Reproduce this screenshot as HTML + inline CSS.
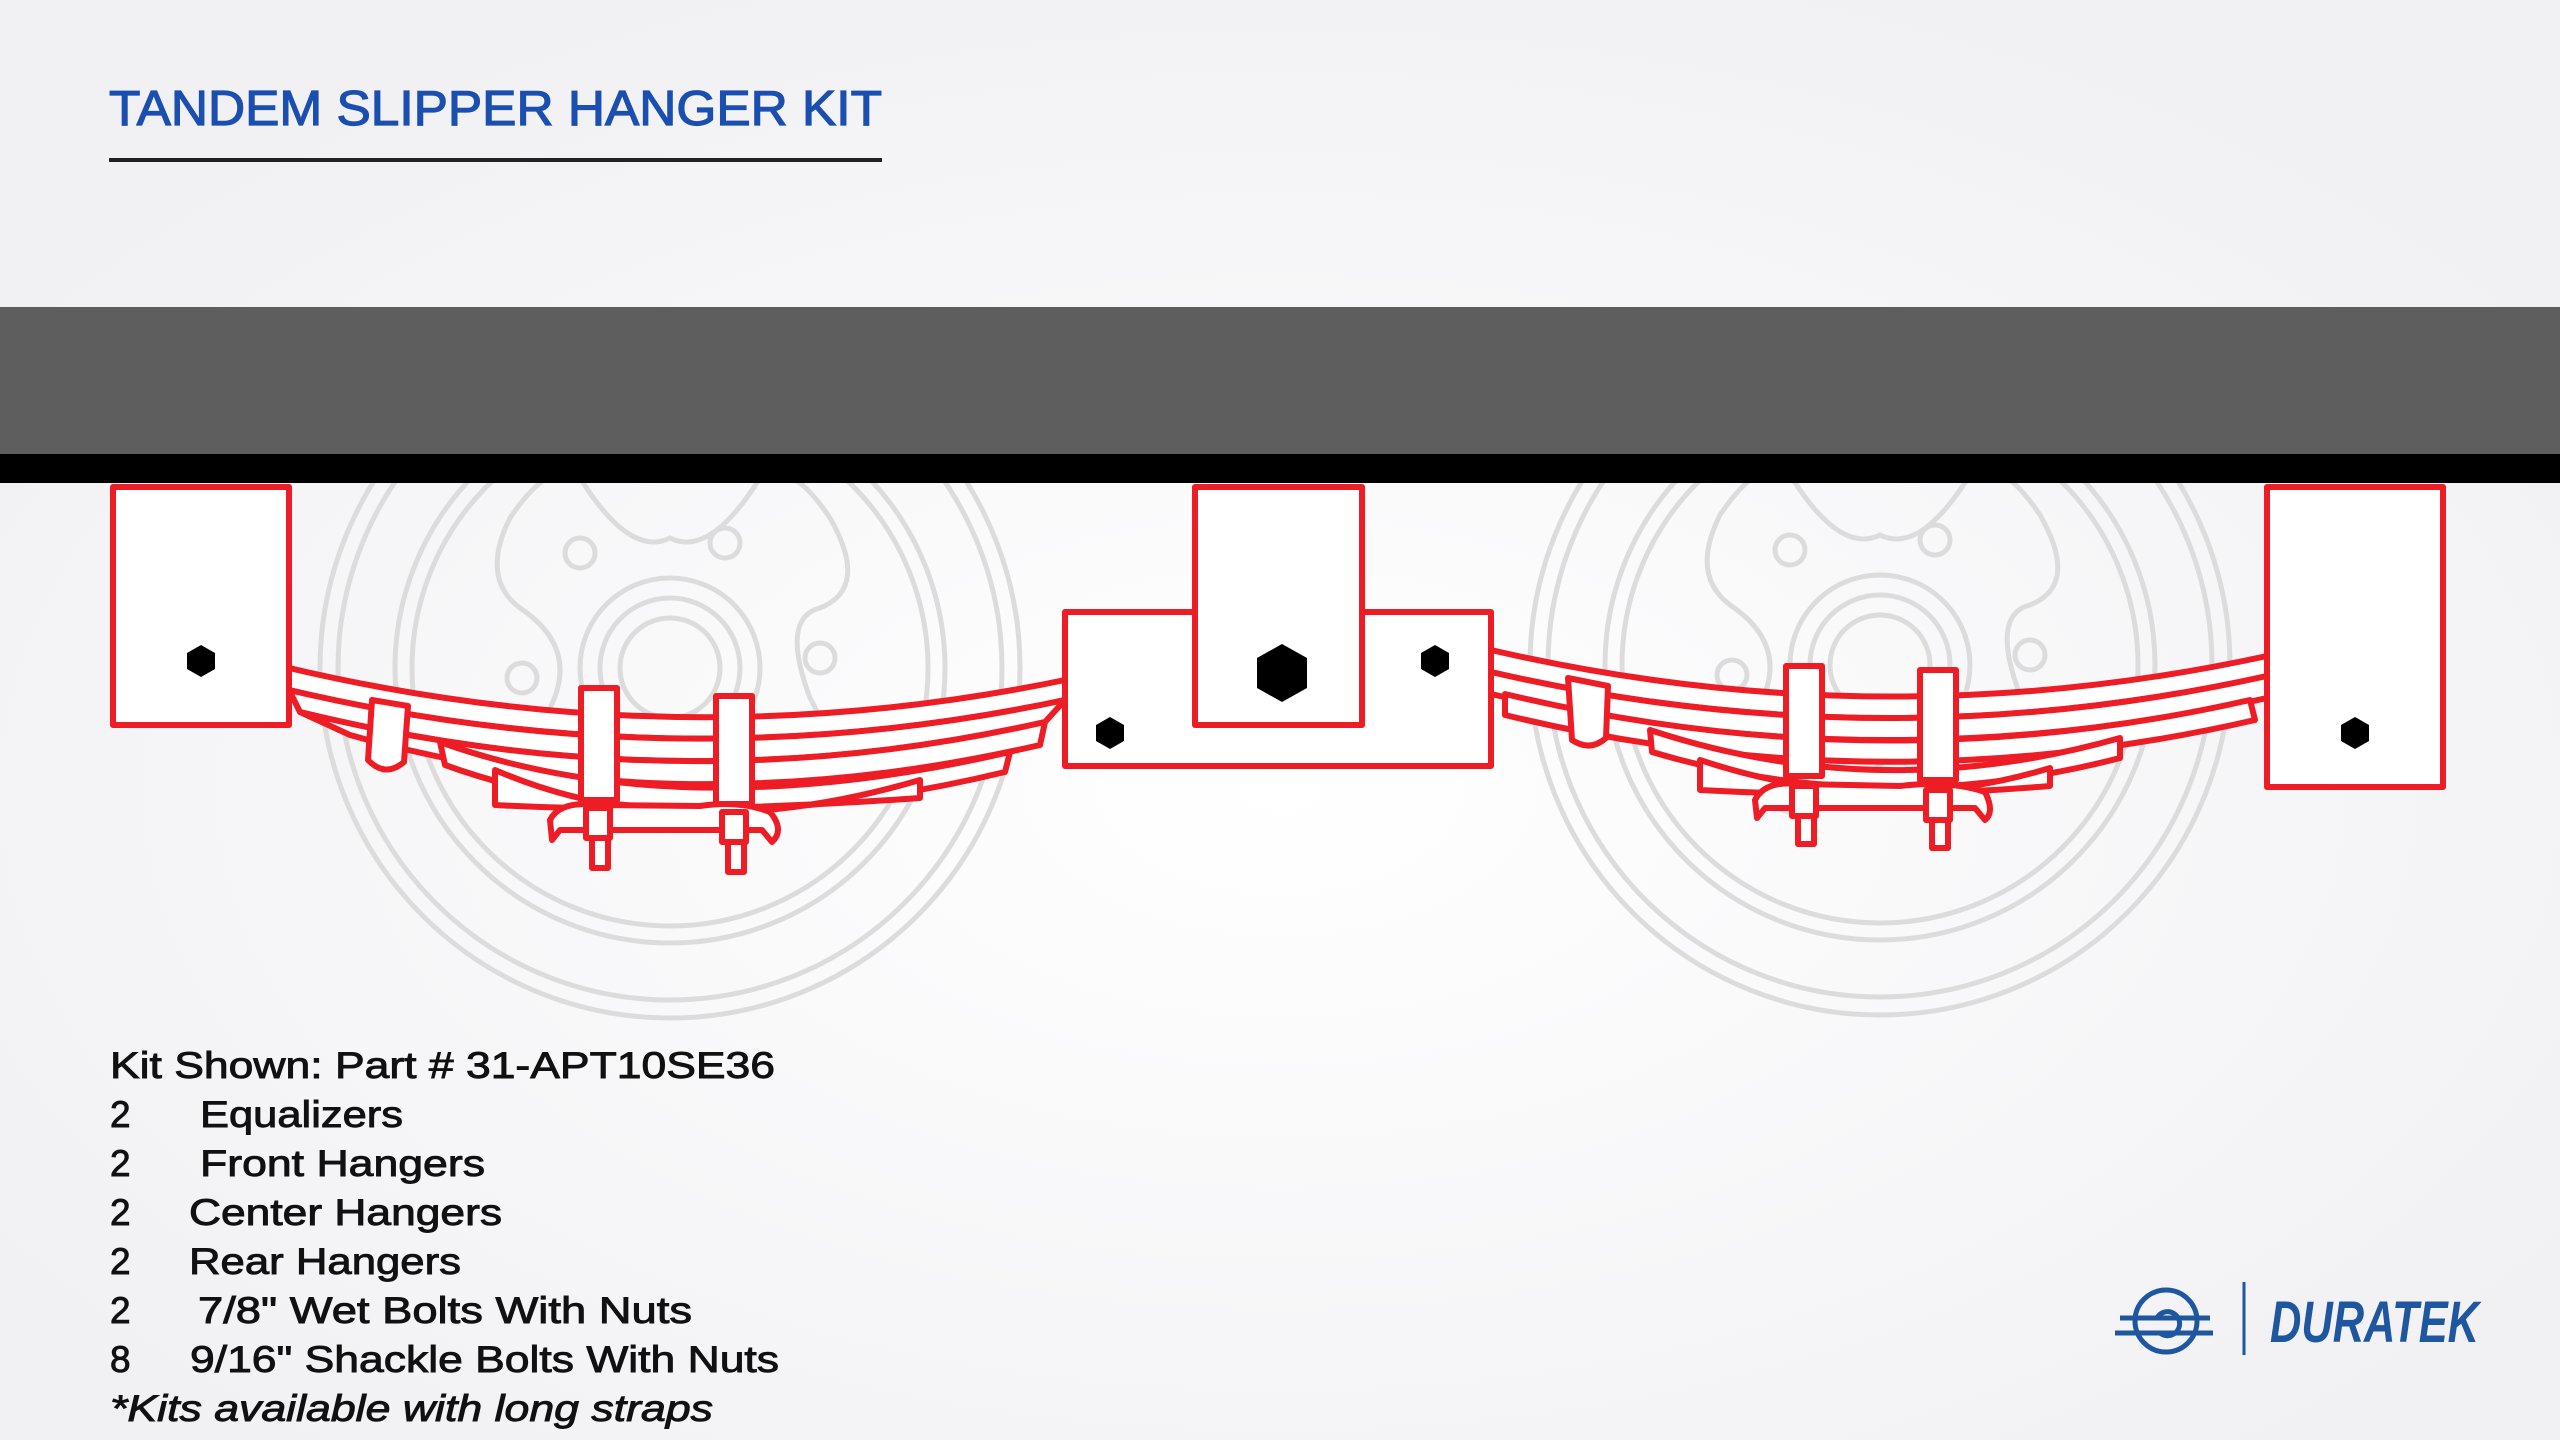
<!DOCTYPE html>
<html><head><meta charset="utf-8"><style>
html,body{margin:0;padding:0;width:2560px;height:1440px;overflow:hidden;background:#f5f5f7;}
svg{display:block}
</style></head><body>
<svg width="2560" height="1440" viewBox="0 0 2560 1440" xmlns="http://www.w3.org/2000/svg">
<defs>
<radialGradient id="bg" cx="0.5" cy="0.55" r="0.6">
<stop offset="0" stop-color="#ffffff"/><stop offset="1" stop-color="#f1f1f4"/>
</radialGradient>
<g id="wheel" fill="none" stroke="#dcdcdc" stroke-width="5">
<circle r="350"/><circle r="332"/>
<circle r="275"/><circle r="258"/>
<circle r="90"/><circle r="70"/><circle r="50"/>
<circle cx="-90" cy="-115" r="15"/><circle cx="55" cy="-125" r="15"/><circle cx="150" cy="-10" r="15"/><circle cx="-148" cy="10" r="15"/>
<path d="M-160,-150 Q-120,-210 -90,-190 Q-40,-110 0,-130 Q40,-110 90,-190 Q120,-210 160,-150 Q200,-80 150,-60 Q110,-50 140,30 Q170,80 120,120 Q80,150 60,110 Q30,60 -20,120 Q-80,170 -120,130 Q-160,80 -120,40 Q-90,-20 -150,-60 Q-190,-90 -160,-150Z"/>
</g>
</defs>
<rect width="2560" height="1440" fill="url(#bg)"/>
<text x="109" y="125" font-family="Liberation Sans, sans-serif" font-size="49" fill="#1a4fb0" stroke="#1a4fb0" stroke-width="1.2" textLength="773" lengthAdjust="spacingAndGlyphs">TANDEM SLIPPER HANGER KIT</text>
<rect x="109" y="158" width="773" height="4" fill="#222"/>

<use href="#wheel" x="670" y="668"/>
<use href="#wheel" x="1880" y="665"/>

<rect x="0" y="307" width="2560" height="147" fill="#5e5e5e"/>
<rect x="0" y="454" width="2560" height="29" fill="#000"/>

<g fill="#fff" stroke="#ee1c24" stroke-width="6" stroke-linejoin="round">
<path d="M289,668 Q680,760 1065,680 L1065,700 Q680,782 289,690Z"/>
<path d="M289,690 Q680,782 1065,700 L1045,722 Q680,805 300,712Z"/>
<path d="M300,712 Q680,805 1045,722 L1040,745 Q680,828 350,735Z"/>
<path d="M440,742 Q680,828 1010,752 L1005,772 Q680,850 445,765Z"/>
<path d="M495,770 Q680,850 920,780 L920,798 Q680,815 495,805Z"/>
<path d="M372,700 L408,706 L404,762 Q385,778 368,760Z"/>
<rect x="581" y="688" width="36" height="112"/>
<rect x="716" y="696" width="36" height="108"/>
<path d="M550,820 Q560,800 600,805 L700,806 Q740,800 770,812 Q785,830 772,842 L762,830 L560,830 L552,840Z"/>
<rect x="586" y="808" width="24" height="30"/><rect x="592" y="838" width="16" height="30"/>
<rect x="722" y="812" width="24" height="30"/><rect x="728" y="842" width="16" height="30"/>
<path d="M1491,650 Q1880,740 2267,656 L2267,676 Q1880,762 1491,672Z"/>
<path d="M1491,672 Q1880,762 2267,676 L2267,698 Q1880,784 1491,694Z"/>
<path d="M1505,694 Q1880,784 2250,700 L2255,720 Q1880,806 1505,715Z"/>
<path d="M1650,730 Q1880,806 2120,738 L2120,758 Q1880,820 1652,752Z"/>
<path d="M1700,760 Q1880,820 2050,768 L2050,786 Q1880,800 1700,790Z"/>
<path d="M1568,678 L1608,686 L1606,738 Q1590,752 1572,740Z"/>
<rect x="1786" y="666" width="36" height="110"/>
<rect x="1920" y="670" width="36" height="110"/>
<path d="M1755,800 Q1765,780 1800,784 L1900,786 Q1950,780 1985,792 Q1995,812 1985,820 L1975,808 L1765,808 L1757,818Z"/>
<rect x="1792" y="786" width="24" height="30"/><rect x="1798" y="816" width="16" height="28"/>
<rect x="1926" y="790" width="24" height="30"/><rect x="1932" y="820" width="16" height="28"/>
<rect x="113" y="487" width="176" height="238"/>
<rect x="1065" y="612" width="426" height="154"/>
<rect x="1195" y="487" width="167" height="238"/>
<rect x="2267" y="487" width="176" height="300"/>
</g>
<g fill="#000">
<polygon points="201,645 215,653 215,669 201,677 187,669 187,653"/>
<polygon points="1282,644 1307,658 1307,688 1282,702 1257,688 1257,658"/>
<polygon points="1110,717 1124,725 1124,741 1110,749 1096,741 1096,725"/>
<polygon points="1435,645 1449,653 1449,669 1435,677 1421,669 1421,653"/>
<polygon points="2355,717 2369,725 2369,741 2355,749 2341,741 2341,725"/>
</g>

<g font-family="Liberation Sans, sans-serif" font-size="37" fill="#111" stroke="#111" stroke-width="0.9">
<text x="110" y="1078" textLength="665" lengthAdjust="spacingAndGlyphs">Kit Shown:  Part # 31-APT10SE36</text>
<text x="110" y="1127">2</text><text x="200" y="1127" textLength="203" lengthAdjust="spacingAndGlyphs">Equalizers</text>
<text x="110" y="1176">2</text><text x="200" y="1176" textLength="285" lengthAdjust="spacingAndGlyphs">Front Hangers</text>
<text x="110" y="1225">2</text><text x="189" y="1225" textLength="313" lengthAdjust="spacingAndGlyphs">Center Hangers</text>
<text x="110" y="1274">2</text><text x="189" y="1274" textLength="272" lengthAdjust="spacingAndGlyphs">Rear Hangers</text>
<text x="110" y="1323">2</text><text x="198" y="1323" textLength="494" lengthAdjust="spacingAndGlyphs">7/8" Wet Bolts With Nuts</text>
<text x="110" y="1372">8</text><text x="190" y="1372" textLength="589" lengthAdjust="spacingAndGlyphs">9/16" Shackle Bolts With Nuts</text>
<text x="110" y="1421" font-style="italic" textLength="603" lengthAdjust="spacingAndGlyphs">*Kits available with long straps</text>
</g>

<g stroke="#1f56a0" stroke-width="5" fill="none">
<circle cx="2166" cy="1321" r="31"/>
<path d="M2120,1318 H2210 M2115,1333 H2213 M2157,1318 A12,12 0 1 1 2160,1333"/>
<line x1="2244" y1="1282" x2="2244" y2="1355" stroke-width="3"/>
</g>
<text x="2270" y="1342" font-family="Liberation Sans, sans-serif" font-weight="bold" font-style="italic" font-size="58" fill="#1f56a0" textLength="209" lengthAdjust="spacingAndGlyphs">DURATEK</text>
</svg>
</body></html>
